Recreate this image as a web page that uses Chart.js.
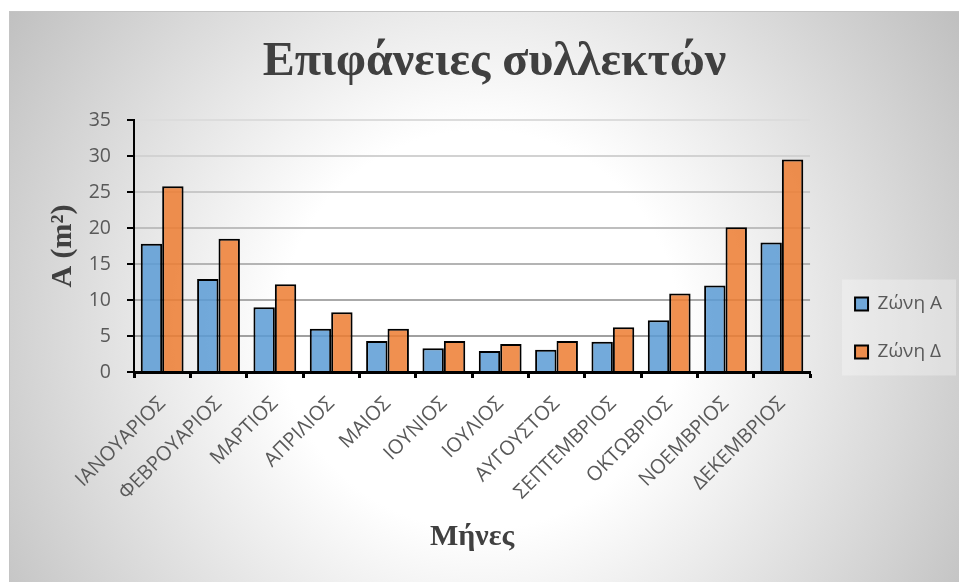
<!DOCTYPE html>
<html><head><meta charset="utf-8">
<script src="https://cdn.jsdelivr.net/npm/chart.js@4/dist/chart.umd.min.js"></script>
<style>html,body{margin:0;padding:0;background:#fff}canvas{display:block}</style>
</head><body>
<canvas id="c" width="959" height="582"></canvas>
<script>
const months = ['ΙΑΝΟΥΑΡΙΟΣ','ΦΕΒΡΟΥΑΡΙΟΣ','ΜΑΡΤΙΟΣ','ΑΠΡΙΛΙΟΣ','ΜΑΙΟΣ','ΙΟΥΝΙΟΣ','ΙΟΥΛΙΟΣ','ΑΥΓΟΥΣΤΟΣ','ΣΕΠΤΕΜΒΡΙΟΣ','ΟΚΤΩΒΡΙΟΣ','ΝΟΕΜΒΡΙΟΣ','ΔΕΚΕΜΒΡΙΟΣ'];
const zoneA = [17.8, 12.9, 9.0, 6.0, 4.3, 3.3, 2.9, 3.1, 4.2, 7.2, 12.0, 18.0];
const zoneD = [25.8, 18.5, 12.2, 8.3, 6.0, 4.3, 3.9, 4.3, 6.2, 10.9, 20.1, 29.5];
const seriesNames = ['Ζώνη Α', 'Ζώνη Δ'];
const yTicks = [0, 5, 10, 15, 20, 25, 30, 35];
const chartTitle = 'Επιφάνειες συλλεκτών';
const xTitle = 'Μήνες';
const yTitle = 'A (m²)';

const SANS = '"Open Sans", "Noto Sans", sans-serif';
const SERIF = '"Liberation Serif", "DejaVu Serif", serif';

const bgPlugin = {
  id: 'bg',
  beforeDraw(chart) {
    const ctx = chart.ctx;
    ctx.save();
    ctx.fillStyle = '#ffffff';
    ctx.fillRect(0, 0, chart.width, chart.height);
    const g = ctx.createRadialGradient(480, 330, 0, 480, 330, 570);
    g.addColorStop(0, '#ffffff');
    g.addColorStop(0.35, '#ffffff');
    g.addColorStop(1, '#c0c0c0');
    ctx.fillStyle = g;
    ctx.fillRect(9, 11, chart.width - 9, chart.height - 11);
    ctx.strokeStyle = '#c4c4c4';
    ctx.lineWidth = 1;
    ctx.strokeRect(9.5, 11.5, chart.width, chart.height);
    const hb = chart.legend && chart.legend.legendHitBoxes;
    if (hb && hb.length) {
      const x0 = hb[0].left - 13;
      const y0 = hb[0].top - 15;
      const last = hb[hb.length - 1];
      const y1 = last.top + last.height + 14;
      ctx.fillStyle = 'rgba(255,255,255,0.3)';
      ctx.fillRect(x0, y0, 114, y1 - y0);
    }
    ctx.restore();
  }
};

function gridShade(v) {
  const t = v / 35;
  const c = Math.round(150 + t * 70);
  return 'rgb(' + c + ',' + c + ',' + c + ')';
}

new Chart(document.getElementById('c'), {
  type: 'bar',
  data: {
    labels: months,
    datasets: [
      { label: seriesNames[0], data: zoneA, backgroundColor: 'rgba(91,155,213,0.85)', borderColor: '#000000', borderWidth: 2 },
      { label: seriesNames[1], data: zoneD, backgroundColor: 'rgba(237,125,49,0.85)', borderColor: '#000000', borderWidth: 2 }
    ]
  },
  plugins: [bgPlugin],
  options: {
    responsive: false,
    animation: false,
    devicePixelRatio: 1,
    layout: { padding: { left: 37, top: 0, right: 7, bottom: 23 } },
    categoryPercentage: 0.76,
    barPercentage: 1.0,
    plugins: {
      tooltip: { enabled: false },
      title: {
        display: true, text: chartTitle, color: '#404040',
        font: { family: SERIF, size: 48, weight: 'bold' },
        padding: { top: 34, bottom: 28.4 }
      },
      legend: {
        position: 'right',
        align: 'center',
        title: { display: true, text: ' ', font: { size: 12 }, padding: { top: 0, bottom: 82.6 } },
        labels: {
          color: '#595959', font: { family: SANS, size: 19 },
          boxWidth: 13, boxHeight: 13, padding: 29
        }
      }
    },
    scales: {
      x: {
        grid: { display: true, drawOnChartArea: false, drawTicks: true, tickLength: 6, tickColor: '#000', tickWidth: 3, offset: true },
        border: { display: true, color: '#000', width: 3 },
        ticks: { color: '#595959', font: { family: SANS, size: 20 }, minRotation: 45, maxRotation: 45, autoSkip: false, padding: 14 },
        title: { display: true, text: xTitle, color: '#404040', font: { family: SERIF, size: 30, weight: 'bold' }, padding: { top: 0, bottom: 4 } },
        afterFit: s => { s.height = 187; }
      },
      y: {
        min: 0, max: 35,
        afterBuildTicks: s => { s.ticks = yTicks.map(v => ({ value: v })); },
        grid: { color: c => gridShade(c.tick ? c.tick.value : 0), lineWidth: 2, tickColor: '#000', tickLength: 7, tickWidth: 2 },
        border: { display: true, color: '#000', width: 2 },
        ticks: { color: '#595959', font: { family: SANS, size: 19.5 }, padding: 16 },
        title: { display: true, text: yTitle, color: '#404040', font: { family: SERIF, size: 30, weight: 'bold' }, padding: { top: 8, bottom: 0 } },
        afterFit: s => { s.width = 97; }
      },
      spare: {
        type: 'linear', position: 'right', display: true,
        grid: { display: false }, border: { display: false }, ticks: { display: false },
        afterFit: s => { s.width = 16; }
      }
    }
  }
});
</script>
</body></html>
